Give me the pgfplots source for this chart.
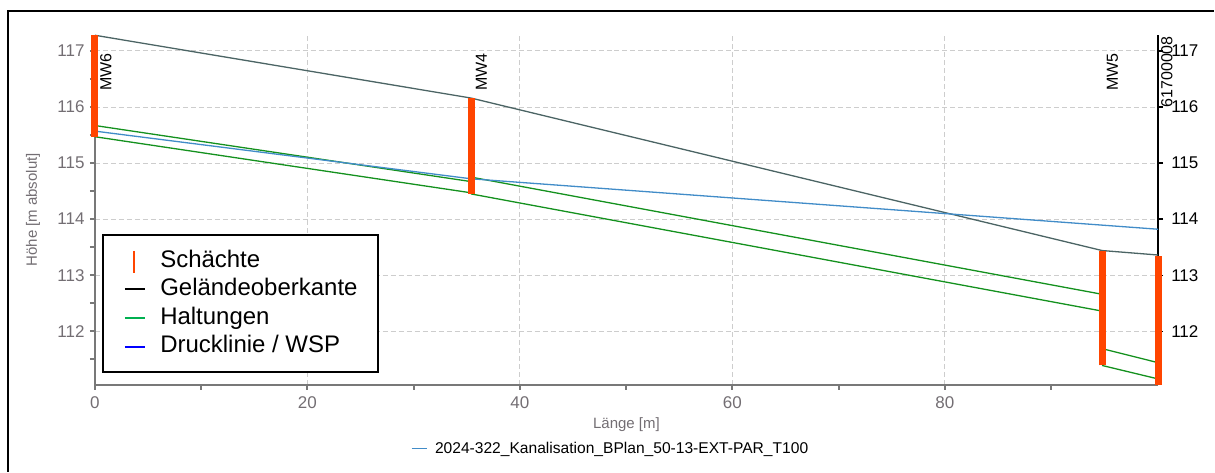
\documentclass[border=0pt]{standalone}
\usepackage{fontspec}
\setmainfont{Liberation Sans}
\usepackage{pgfplots}
\pgfplotsset{compat=1.18}

\definecolor{orred}{RGB}{255,69,0}
\definecolor{ground}{RGB}{75,100,100}
\definecolor{pipe}{RGB}{20,145,30}
\definecolor{wsp}{RGB}{65,140,200}
\definecolor{axgrey}{RGB}{120,120,120}
\definecolor{labgrey}{RGB}{115,110,115}
\definecolor{gridgrey}{RGB}{205,205,205}
\definecolor{legred}{RGB}{255,69,0}
\definecolor{leggreen}{RGB}{0,176,80}
\definecolor{legblue}{RGB}{0,0,255}

% vertical shaft names; yshift acts sideways after the rotation
\tikzset{shaftlabel/.style={rotate=90, anchor=north east, inner sep=0pt,
    font=\fontsize{8}{9}\selectfont}}

\begin{document}
\begin{tikzpicture}
% page frame in pixel units (origin top left)
\begin{scope}[shift={(-47.5pt,192.5pt)}, x=0.5pt, y=-0.5pt]
  \useasboundingbox (0,0) rectangle (1215,472);
\end{scope}

% right-hand height scale
\begin{axis}[
  at={(0,0)}, anchor=south west,
  scale only axis, width=532pt, height=175pt,
  xmin=0, xmax=100.07, ymin=111.047, ymax=117.285,
  axis x line=none, axis y line*=right,
  axis line style={-, draw=black, line width=0.7pt},
  ytick={112,113,114,115,116,117},
  tick align=outside, major tick length=2.5pt,
  ytick style={draw=black, line width=0.7pt},
  yticklabel style={font=\fontsize{8.5}{10}\selectfont, text=black, xshift=0.6pt},
  /pgf/number format/assume math mode=true,
]
\addplot[draw=none, forget plot] coordinates {(0,112) (100,112)};
\end{axis}

\begin{axis}[
  at={(0,0)}, anchor=south west,
  scale only axis, width=532pt, height=175pt,
  xmin=0, xmax=100.07, ymin=111.047, ymax=117.285,
  clip=false,
  axis x line*=bottom, axis y line*=left,
  axis line style={-, draw=axgrey, line width=1pt},
  xtick={0,20,40,60,80}, minor xtick={10,30,50,70,90},
  ytick={112,113,114,115,116,117},
  minor ytick={111.5,112.5,113.5,114.5,115.5,116.5},
  tick align=outside, major tick length=2.5pt, minor tick length=2.5pt,
  every tick/.style={draw=axgrey, line width=1pt},
  minor tick style={draw=axgrey, line width=1pt},
  grid=major,
  major grid style={dash pattern=on 2.5pt off 1.5pt, draw=gridgrey, line width=0.5pt},
  ticklabel style={font=\fontsize{8.5}{10}\selectfont, text=labgrey},
  yticklabel style={xshift=0.8pt},
  /pgf/number format/assume math mode=true,
  xlabel={Länge [m]},
  xlabel style={at={(axis description cs:0.5,0)}, anchor=base, yshift=-22pt,
                font=\fontsize{7.5}{9}\selectfont, text=labgrey},
  ylabel={Höhe [m absolut]},
  ylabel style={at={(axis description cs:0,0.5)}, anchor=center, yshift=31pt,
                font=\fontsize{7.5}{9}\selectfont, text=labgrey},
]
% terrain surface
\addplot[ground, line width=0.65pt] coordinates {
  (0,117.28) (35.4,116.16) (94.8,113.44) (100.07,113.36)};

% sewer sections, crown and invert
\addplot[pipe, line width=0.65pt] coordinates {(0,115.67) (35.4,114.67)};
\addplot[pipe, line width=0.65pt] coordinates {(0,115.47) (35.4,114.47)};
\addplot[pipe, line width=0.65pt] coordinates {(35.4,114.75) (94.8,112.66)};
\addplot[pipe, line width=0.65pt] coordinates {(35.4,114.45) (94.8,112.36)};
\addplot[pipe, line width=0.65pt] coordinates {(94.8,111.69) (100.07,111.44)};
\addplot[pipe, line width=0.65pt] coordinates {(94.8,111.39) (100.07,111.15)};

% hydraulic grade line
\addplot[wsp, line width=0.65pt] coordinates {
  (0,115.57) (35.4,114.72) (100.07,113.82)};

% manholes
\addplot[orred, line width=3.5pt] coordinates {(0,115.47) (0,117.28)};
\addplot[orred, line width=3.5pt] coordinates {(35.4,114.45) (35.4,116.16)};
\addplot[orred, line width=3.5pt] coordinates {(94.8,111.39) (94.8,113.44)};
\addplot[orred, line width=3.5pt] coordinates {(100.07,111.05) (100.07,113.35)};

\node[shaftlabel, yshift=-2.5pt] at (axis cs:0,116.965) {MW6};
\node[shaftlabel, yshift=-2.2pt] at (axis cs:35.4,116.965) {MW4};
\node[shaftlabel, yshift=-2.2pt] at (axis cs:94.8,116.965) {MW5};
\node[shaftlabel, yshift=-1.4pt] at (axis cs:100.07,117.27) {61700008};
\end{axis}

\begin{scope}[shift={(-47.5pt,192.5pt)}, x=0.5pt, y=-0.5pt]
  % outer frame
  \draw[black, line width=1pt] (8,472) -- (8,11) -- (1215,11);
  % legend box
  \draw[black, line width=1pt, fill=white] (103,235) rectangle (378,372);
  \draw[legred, line width=1pt] (134,251) -- (134,273);
  \draw[black, line width=1pt] (125,289) -- (145,289);
  \draw[leggreen, line width=1pt] (125,318) -- (145,318);
  \draw[legblue, line width=1pt] (125,347) -- (145,347);
  \begin{scope}[every node/.style={anchor=base west, inner sep=0pt,
      font=\fontsize{12}{14}\selectfont}]
    \node at (160,268) {Schächte};
    \node at (160,296) {Geländeoberkante};
    \node at (160,325) {Haltungen};
    \node at (160,353) {Drucklinie / WSP};
  \end{scope}
  % series key below the plot
  \draw[wsp, line width=0.8pt] (412,449) -- (427,449);
  \node[anchor=base west, inner sep=0pt, font=\fontsize{7.8}{9}\selectfont]
    at (435,454) {2024-322\_Kanalisation\_BPlan\_50-13-EXT-PAR\_T100};
\end{scope}
\end{tikzpicture}
\end{document}
